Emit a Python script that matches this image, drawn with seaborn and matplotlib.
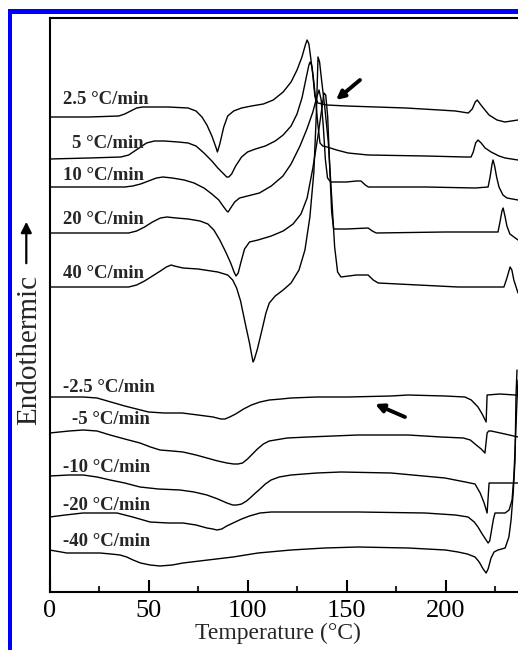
import matplotlib
matplotlib.use("Agg")
import matplotlib.pyplot as plt
import numpy as np
import pandas as pd
import seaborn as sns
from matplotlib.patches import Rectangle, FancyArrowPatch

# ---------------- data ----------------
# Heating scans: temperature (°C) and heat-flow signal (a.u., stacked offsets)
t_h25 = [0, 20, 35, 38, 41, 44, 47, 50, 60, 70, 74, 77, 79.5, 82, 84, 84.8, 86, 88, 90, 93, 97,
         102, 108, 113, 118, 122, 125, 127.5, 129.2, 130.1, 131, 132, 133, 134, 135.5, 140, 150,
         165, 180, 197, 205, 211.5, 213.5, 215, 216, 217.5, 219.5, 222, 226, 230, 236.6]
s_h25 = [47.5, 47.5, 47.6, 47.8, 48.1, 48.4, 48.5, 48.5, 48.5, 48.4, 48.1, 47.5, 46.7, 45.6, 44.5,
         44.0, 44.8, 46.5, 47.6, 48.1, 48.4, 48.6, 48.8, 49.2, 50.0, 51.0, 52.2, 53.5, 54.7, 55.2,
         54.8, 53.3, 51.7, 49.6, 48.9, 48.7, 48.6, 48.5, 48.4, 48.2, 48.1, 47.9, 48.3, 49.0, 49.2,
         48.8, 48.3, 47.7, 47.2, 47.0, 47.2]

t_h5 = [0, 20, 36, 40, 43, 46, 49, 53, 58, 65, 70, 74, 78, 82, 85, 87.5, 89.5, 90.5, 92, 94, 97,
        100, 104, 109, 114, 118, 122, 125, 127.5, 129.5, 131, 131.6, 132.5, 133.5, 134.5, 135.5,
        136.6, 138, 140.2, 145, 150.8, 160.9, 190, 210, 212.9, 214, 215.2, 216.4, 218, 220, 223,
        227, 230.1, 236.6]
s_h5 = [43.3, 43.4, 43.5, 43.7, 44.1, 44.5, 44.9, 45.1, 45.1, 45.0, 44.9, 44.6, 43.9, 43.1, 42.4,
        41.9, 41.5, 41.5, 41.8, 42.6, 43.5, 44.0, 44.3, 44.6, 45.1, 45.7, 46.6, 47.8, 49.4, 51.3,
        52.7, 53.0, 52.6, 51.0, 49.0, 46.8, 44.9, 44.6, 44.5, 44.2, 43.9, 43.7, 43.6, 43.5, 43.5,
        44.0, 44.9, 45.2, 44.9, 44.4, 44.0, 43.6, 43.4, 43.2]

t_h10 = [0, 20, 38, 42, 46, 50, 54, 57.3, 62, 68, 73, 78, 82, 85.5, 88, 89.5, 90.2, 91.5, 93.5, 96,
         100, 106, 112, 117.9, 122, 126.5, 130, 133, 135, 136.1, 137.2, 138.3, 139.3, 140.4, 142,
         150, 155, 157.3, 159.5, 161, 190, 215, 221.5, 222.5, 223.5, 224, 224.8, 225.8, 227, 229,
         231, 236.6]
s_h10 = [40.5, 40.5, 40.5, 40.6, 40.8, 41.1, 41.4, 41.5, 41.4, 41.2, 40.9, 40.4, 39.8, 39.2, 38.5,
         38.1, 38.0, 38.4, 39.0, 39.4, 39.6, 39.9, 40.6, 41.6, 42.8, 44.6, 46.3, 48.0, 49.5, 50.2,
         49.2, 46.5, 43.3, 41.4, 41.0, 41.0, 41.1, 41.1, 40.7, 40.5, 40.5, 40.4, 40.5, 41.5, 42.8,
         43.2, 42.6, 41.5, 40.5, 39.7, 39.4, 39.2]

t_h20 = [0, 20, 40, 44, 48, 52, 56, 59.3, 64, 70, 76, 80, 83, 86, 89, 91.5, 93.2, 94.2, 95.3, 96.7,
         98.5, 101, 105.3, 112, 118, 123, 127, 130.1, 133, 135.5, 137.5, 138.6, 139.5, 140.5, 141.5,
         142.5, 143.5, 150, 160.9, 163, 165, 199.7, 226.5, 227.5, 228.5, 229.1, 230, 231, 232.5,
         236.6]
s_h20 = [35.9, 35.9, 35.9, 36.1, 36.5, 37.0, 37.4, 37.5, 37.4, 37.3, 37.1, 36.8, 36.2, 35.2, 34.0,
         32.9, 32.0, 31.6, 31.9, 33.0, 34.3, 35.0, 35.2, 35.6, 36.1, 36.8, 37.8, 39.4, 42.4, 45.5,
         48.3, 49.9, 49.7, 47.5, 42.5, 38.0, 36.3, 36.3, 36.4, 36.1, 35.9, 36.0, 36.0, 37.0, 38.1,
         38.4, 37.6, 36.6, 35.8, 35.2]

t_h40 = [0, 20, 40, 44, 48, 52, 56, 59, 61.5, 63, 67.4, 75, 85, 90, 92.5, 94.5, 96.5, 98.7, 101,
         102.3, 102.8, 103.5, 105, 107.3, 109.3, 111, 114, 118, 122, 126, 129, 131.5, 133.5, 134.8,
         135.6, 136.4, 137.4, 139, 140.8, 142.5, 144, 145.5, 147.2, 155, 160.9, 163.5, 166, 206.3,
         229.5, 231, 232.6, 233.5, 234.5, 236.6]
s_h40 = [30.5, 30.5, 30.5, 30.7, 31.1, 31.6, 32.1, 32.5, 32.7, 32.6, 32.4, 32.3, 32.0, 31.7, 31.2,
         30.4, 29.1, 27.0, 24.9, 23.5, 23.0, 23.3, 24.3, 26.2, 27.9, 28.9, 29.6, 30.2, 30.9, 32.2,
         34.2, 37.5, 42.0, 48.0, 53.5, 53.0, 51.2, 48.5, 45.0, 39.5, 34.5, 32.0, 31.5, 31.7, 31.7,
         31.2, 30.9, 30.5, 30.5, 31.4, 32.5, 32.2, 31.2, 29.9]

# Cooling scans
t_c25 = [0, 10, 17, 24, 31, 38, 44, 50, 58, 67, 75, 82.6, 86.5, 88.6, 91, 94, 98, 102, 106.3, 111,
         117, 122, 135, 150.8, 172.5, 181.1, 199.7, 209.8, 213, 216.4, 218.5, 220.5, 221.0, 227.5,
         235.1, 236.6]
s_c25 = [19.5, 19.5, 19.5, 19.4, 19.0, 18.6, 18.3, 18.0, 17.9, 17.9, 17.7, 17.5, 17.3, 17.3, 17.5,
         17.8, 18.3, 18.7, 19.0, 19.2, 19.3, 19.4, 19.5, 19.5, 19.6, 19.7, 19.6, 19.5, 19.2, 18.5,
         17.8, 17.0, 19.7, 19.8, 19.7, 19.7]

t_c5 = [0, 10, 17, 24, 30.6, 38, 45.7, 51, 55.8, 62, 67.4, 74, 79.5, 85, 89.6, 93, 95.2, 97.5, 100,
        102.5, 105, 108, 111, 114, 120, 130.6, 155.8, 181.1, 197.7, 209, 212.5, 215.5, 218, 219.9,
        221.0, 221.8, 223.0, 230, 236.6]
s_c5 = [15.9, 16.1, 16.2, 16.1, 15.7, 15.3, 14.9, 14.5, 14.2, 14.1, 14.0, 13.7, 13.4, 13.1, 12.9,
        12.8, 12.8, 12.9, 13.3, 13.8, 14.3, 14.8, 15.1, 15.2, 15.4, 15.5, 15.7, 15.7, 15.5, 15.4,
        15.2, 14.7, 14.3, 13.9, 15.9, 16.1, 16.1, 15.8, 15.5]

t_c10 = [0, 10, 17, 24, 30.6, 38, 45.7, 55, 65.9, 73, 79.5, 85, 89.6, 92.5, 94.7, 97, 99.5, 101.3,
         104, 106.3, 109, 111.9, 116, 122, 135, 147.2, 172.5, 199.7, 210, 214.9, 217.5, 219.5,
         221.0, 222.0, 236.6]
s_c10 = [11.6, 11.7, 11.7, 11.5, 11.2, 10.9, 10.5, 10.3, 10.2, 10.0, 9.7, 9.3, 8.9, 8.7, 8.7, 8.8,
         9.1, 9.4, 9.9, 10.3, 10.8, 11.2, 11.5, 11.7, 11.9, 12.0, 11.9, 11.4, 11.0, 10.8, 9.9, 8.9,
         7.9, 10.9, 10.9]

t_c20 = [0, 8, 16.9, 25, 34.1, 42, 50.8, 60, 67.4, 74, 79.5, 82.5, 84.6, 87, 89.5, 92.7, 97, 101,
         106.3, 112, 122, 155.8, 189.6, 205, 211.4, 214.5, 216.4, 218.5, 220.5, 221.5, 222.3, 223.0,
         224.2, 225.0, 230.1, 232.1, 233.6, 234.5, 235.1, 236.1, 236.6]
s_c20 = [7.5, 7.7, 7.9, 7.9, 7.9, 7.5, 7.0, 6.9, 6.9, 6.7, 6.4, 6.3, 6.2, 6.3, 6.6, 6.9, 7.3, 7.6,
         7.9, 8.0, 8.0, 8.0, 7.9, 7.7, 7.5, 7.0, 6.5, 5.8, 5.2, 4.9, 5.1, 5.9, 7.3, 7.9, 7.9, 8.2,
         9.2, 11.5, 14.2, 19.2, 21.2]

t_c40 = [0, 8.8, 25.5, 31, 35.6, 39, 42.2, 46, 50.8, 55.8, 62, 67.4, 80, 92.7, 105.3, 122.0, 139.1,
         155.8, 181.1, 200, 206.3, 211, 214.9, 217, 219, 220.5, 221.5, 223.0, 224.5, 226.5, 230.1,
         232, 233.1, 234.2, 235.1, 235.6, 236.1]
s_c40 = [4.2, 3.9, 3.9, 3.8, 3.7, 3.5, 3.2, 2.9, 2.7, 2.6, 2.7, 2.9, 3.2, 3.5, 3.9, 4.2, 4.4, 4.5,
         4.4, 4.2, 4.0, 3.8, 3.5, 3.0, 2.3, 1.9, 2.3, 3.4, 4.0, 4.2, 4.4, 5.5, 7.2, 10.0, 13.2, 19.7,
         22.2]

heat_labels = ["2.5 °C/min", "5 °C/min", "10 °C/min", "20 °C/min", "40 °C/min"]
cool_labels = ["-2.5 °C/min", "-5 °C/min", "-10 °C/min", "-20 °C/min", "-40 °C/min"]
x_ticks = [0, 50, 100, 150, 200]
x_minor = [25, 75, 125, 175, 225]
x_label = "Temperature (°C)"
y_label = "Endothermic"

curves = [
    (heat_labels[0], t_h25, s_h25), (heat_labels[1], t_h5, s_h5), (heat_labels[2], t_h10, s_h10),
    (heat_labels[3], t_h20, s_h20), (heat_labels[4], t_h40, s_h40),
    (cool_labels[0], t_c25, s_c25), (cool_labels[1], t_c5, s_c5), (cool_labels[2], t_c10, s_c10),
    (cool_labels[3], t_c20, s_c20), (cool_labels[4], t_c40, s_c40),
]
df = pd.concat([pd.DataFrame({"T": t, "S": s, "rate": lab}) for lab, t, s in curves],
               ignore_index=True)

# ---------------- styling ----------------
sns.set_theme(style="white")
plt.rcParams["font.family"] = ["Liberation Serif", "DejaVu Serif"]

W, H = 518, 650
fig = plt.figure(figsize=(W / 100, H / 100), dpi=100)
ax = fig.add_axes([49.5 / W, 1 - 592 / H, 1 - 49.5 / W, (592 - 18) / H])

sns.lineplot(data=df, x="T", y="S", units="rate", estimator=None, sort=False,
             color="black", lw=1.0, ax=ax, legend=False)

ax.set_xlim(0, 236.6)
ax.set_ylim(0, 57.4)
ax.set_xticks(x_ticks)
ax.set_xticks(x_minor, minor=True)
ax.set_yticks([])
ax.tick_params(axis="x", which="major", direction="in", length=8.6, width=1.5,
               labelsize=19, pad=6, bottom=True, colors="black")
ax.tick_params(axis="x", which="minor", direction="in", length=4.3, width=1.5, bottom=True)
for side in ["left", "bottom", "top"]:
    ax.spines[side].set_visible(True)
    ax.spines[side].set_linewidth(1.5)
    ax.spines[side].set_color("black")
ax.spines["right"].set_visible(False)

ax.set_xlabel(x_label, fontsize=17, va="center")
ax.xaxis.set_label_coords((278 - 49.5) / (W - 49.5), (592 - 633) / (592 - 18))
ax.set_ylabel("")

# curve labels
label_pos = [(6.8, 49.3), (11.4, 44.9), (6.8, 41.7), (6.8, 37.2), (6.8, 31.9),
             (6.8, 20.4), (11.4, 17.2), (6.8, 12.5), (6.8, 8.7), (6.8, 5.0)]
for lab, (x, y) in zip(heat_labels + cool_labels, label_pos):
    ax.text(x, y, lab, fontsize=13.5, fontweight="bold", ha="left", va="center")

# direction arrows
ax.annotate("", xy=(144.7, 49.2), xytext=(156.8, 51.2),
            arrowprops=dict(arrowstyle="-|>", color="black", lw=2.8, mutation_scale=12,
                            shrinkA=0, shrinkB=0))
ax.annotate("", xy=(164.4, 18.8), xytext=(179.5, 17.5),
            arrowprops=dict(arrowstyle="-|>", color="black", lw=2.8, mutation_scale=12,
                            shrinkA=0, shrinkB=0))

# y label with arrow
fig.text(29 / W, 1 - 350 / H, y_label, rotation=90, ha="center", va="center", fontsize=21)
fig.add_artist(FancyArrowPatch((26.3 / W, 1 - 266 / H), (26.3 / W, 1 - 219 / H),
                               transform=fig.transFigure, arrowstyle="-|>",
                               mutation_scale=16, lw=1.6, color="black"))

# blue frame (left and top edges of the original figure box)
fig.add_artist(Rectangle((8 / W, 0), 4.2 / W, (H - 9) / H, transform=fig.transFigure,
                         facecolor="#0000ff", edgecolor="none"))
fig.add_artist(Rectangle((8 / W, 1 - 14 / H), (W - 8) / W, 5 / H, transform=fig.transFigure,
                         facecolor="#0000ff", edgecolor="none"))

fig.savefig("out.png", dpi=100)
